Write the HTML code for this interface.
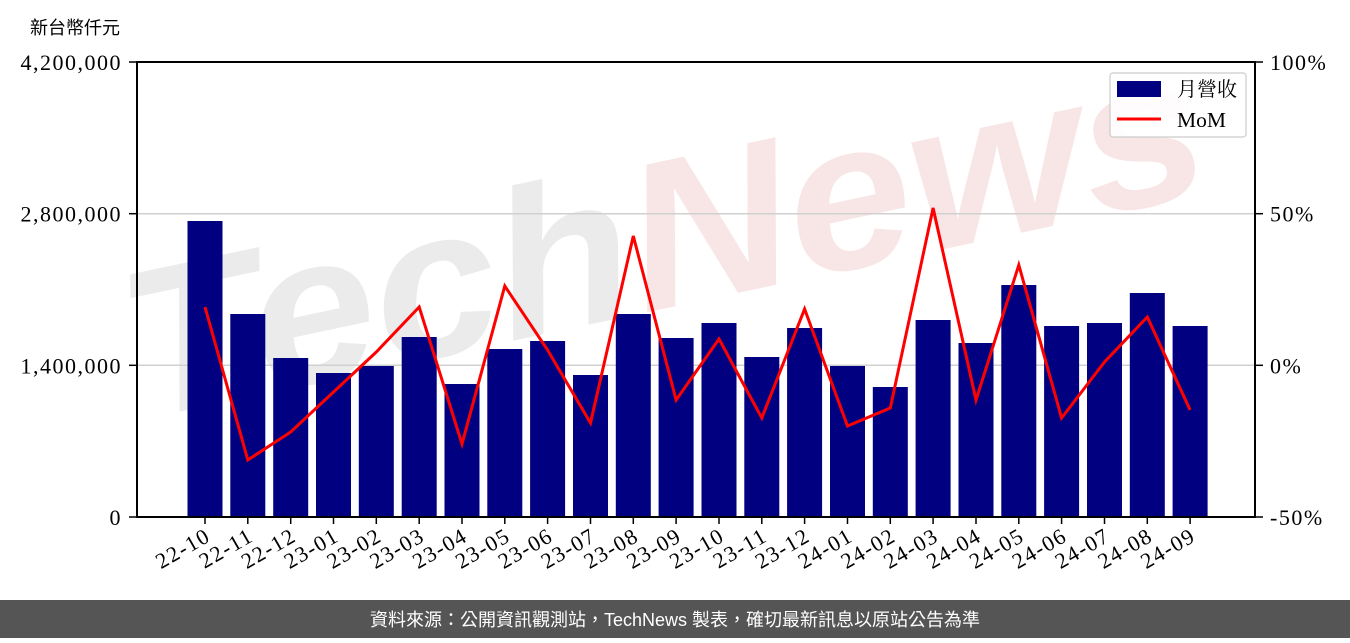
<!DOCTYPE html>
<html><head><meta charset="utf-8"><style>
body{margin:0;width:1350px;height:638px;background:#fff;overflow:hidden}
svg text{font-family:"Liberation Serif","DejaVu Serif","Noto Serif CJK SC",serif}
.n{letter-spacing:1.5px}
</style></head><body>
<svg width="1350" height="638" viewBox="0 0 1350 638" xmlns="http://www.w3.org/2000/svg">
<g transform="rotate(-12 140 420)">
<text x="140" y="420" font-size="210" font-weight="bold" font-style="italic" textLength="1100" lengthAdjust="spacingAndGlyphs" fill="#ebebeb" style="font-family:'Liberation Sans',sans-serif">Tech<tspan fill="#f8e6e6">News</tspan></text>
</g>
<g stroke="#d0d0d0" stroke-width="1.5">
<line x1="137" y1="213.7" x2="1255" y2="213.7"/><line x1="137" y1="365.3" x2="1255" y2="365.3"/>
</g>
<g fill="#000080">
<rect x="187.5" y="221" width="35" height="296"/><rect x="230.3" y="314" width="35" height="203"/><rect x="273.2" y="358" width="35" height="159"/><rect x="316" y="373" width="35" height="144"/><rect x="358.8" y="366" width="35" height="151"/><rect x="401.7" y="337" width="35" height="180"/><rect x="444.5" y="384" width="35" height="133"/><rect x="487.3" y="349" width="35" height="168"/><rect x="530.1" y="341" width="35" height="176"/><rect x="573" y="375" width="35" height="142"/><rect x="615.8" y="314" width="35" height="203"/><rect x="658.6" y="338" width="35" height="179"/><rect x="701.5" y="323" width="35" height="194"/><rect x="744.3" y="357" width="35" height="160"/><rect x="787.1" y="328" width="35" height="189"/><rect x="830" y="366" width="35" height="151"/><rect x="872.8" y="387" width="35" height="130"/><rect x="915.6" y="320" width="35" height="197"/><rect x="958.5" y="343" width="35" height="174"/><rect x="1001.3" y="285" width="35" height="232"/><rect x="1044.1" y="326" width="35" height="191"/><rect x="1087" y="323" width="35" height="194"/><rect x="1129.8" y="293" width="35" height="224"/><rect x="1172.6" y="326" width="35" height="191"/>
</g>
<polyline fill="none" stroke="#ff0000" stroke-width="3" points="205,307 247.8,460 290.7,432 333.5,392 376.3,352 419.2,307 462,444 504.8,286 547.6,350 590.5,423 633.3,236 676.1,400 719,339 761.8,418 804.6,309 847.5,426 890.3,408 933.1,208 976,400 1018.8,265 1061.6,418 1104.5,362 1147.3,317 1190.1,410"/>
<rect x="137" y="62" width="1118" height="455" fill="none" stroke="#000" stroke-width="2"/>
<g stroke="#000" stroke-width="1.5">
<line x1="129" y1="62" x2="137" y2="62"/><line x1="129" y1="213.7" x2="137" y2="213.7"/><line x1="129" y1="365.3" x2="137" y2="365.3"/><line x1="129" y1="517" x2="137" y2="517"/>
<line x1="1255" y1="62" x2="1263" y2="62"/><line x1="1255" y1="213.7" x2="1263" y2="213.7"/><line x1="1255" y1="365.3" x2="1263" y2="365.3"/><line x1="1255" y1="517" x2="1263" y2="517"/>
</g>
<g font-size="22" text-anchor="end" class="n">
<text x="122" y="70">4,200,000</text><text x="122" y="221.7">2,800,000</text><text x="122" y="373.3">1,400,000</text><text x="122" y="525">0</text>
</g>
<g font-size="22" class="n">
<text x="1270" y="70">100%</text><text x="1270" y="221.7">50%</text><text x="1270" y="373.3">0%</text><text x="1270" y="525">-50%</text>
</g>
<text x="30" y="34" font-size="18" style="font-family:'Noto Sans CJK TC',sans-serif">新台幣仟元</text>
<g font-size="22" text-anchor="end" class="n">
<text transform="translate(212,540) rotate(-30)">22-10</text><text transform="translate(254.8,540) rotate(-30)">22-11</text><text transform="translate(297.7,540) rotate(-30)">22-12</text><text transform="translate(340.5,540) rotate(-30)">23-01</text><text transform="translate(383.3,540) rotate(-30)">23-02</text><text transform="translate(426.2,540) rotate(-30)">23-03</text><text transform="translate(469,540) rotate(-30)">23-04</text><text transform="translate(511.8,540) rotate(-30)">23-05</text><text transform="translate(554.6,540) rotate(-30)">23-06</text><text transform="translate(597.5,540) rotate(-30)">23-07</text><text transform="translate(640.3,540) rotate(-30)">23-08</text><text transform="translate(683.1,540) rotate(-30)">23-09</text><text transform="translate(726,540) rotate(-30)">23-10</text><text transform="translate(768.8,540) rotate(-30)">23-11</text><text transform="translate(811.6,540) rotate(-30)">23-12</text><text transform="translate(854.5,540) rotate(-30)">24-01</text><text transform="translate(897.3,540) rotate(-30)">24-02</text><text transform="translate(940.1,540) rotate(-30)">24-03</text><text transform="translate(983,540) rotate(-30)">24-04</text><text transform="translate(1025.8,540) rotate(-30)">24-05</text><text transform="translate(1068.6,540) rotate(-30)">24-06</text><text transform="translate(1111.5,540) rotate(-30)">24-07</text><text transform="translate(1154.3,540) rotate(-30)">24-08</text><text transform="translate(1197.1,540) rotate(-30)">24-09</text>
</g>
<g stroke="#000" stroke-width="1.5">
<path d="M205 517v7M247.8 517v7M290.7 517v7M333.5 517v7M376.3 517v7M419.2 517v7M462 517v7M504.8 517v7M547.6 517v7M590.5 517v7M633.3 517v7M676.1 517v7M719 517v7M761.8 517v7M804.6 517v7M847.5 517v7M890.3 517v7M933.1 517v7M976 517v7M1018.8 517v7M1061.6 517v7M1104.5 517v7M1147.3 517v7M1190.1 517v7"/>
</g>
<rect x="1110" y="73" width="136" height="64" rx="3" fill="#fff" fill-opacity="0.85" stroke="#ccc" stroke-width="1.2"/>
<rect x="1117" y="81" width="44" height="16" fill="#000080"/>
<line x1="1117" y1="119" x2="1161" y2="119" stroke="#ff0000" stroke-width="3"/>
<text x="1177" y="96" font-size="20" style="font-family:'Noto Serif CJK SC',serif">月營收</text>
<text x="1177" y="127" font-size="21.5">MoM</text>
<rect x="0" y="600" width="1350" height="38" fill="#555"/>
<text x="675" y="626" font-size="18" fill="#fff" text-anchor="middle" style="font-family:'Liberation Sans','Noto Sans CJK TC',sans-serif">資料來源：公開資訊觀測站，TechNews 製表，確切最新訊息以原站公告為準</text>
</svg>
</body></html>
